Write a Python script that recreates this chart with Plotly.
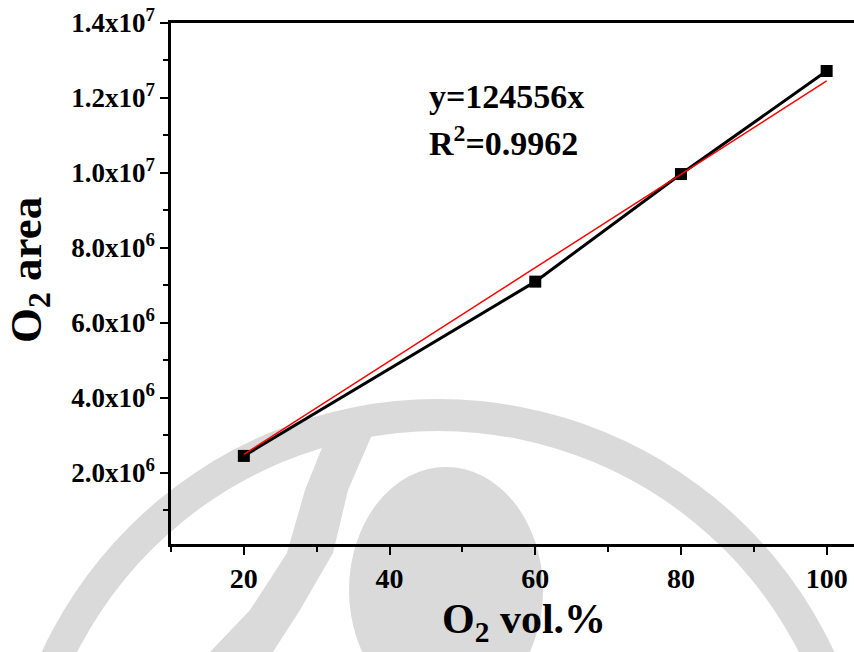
import plotly.graph_objects as go

# Calibration data: O2 concentration vs. detector peak area
o2_vol = [20, 60, 80, 100]
o2_area = [2.45e6, 7.10e6, 9.97e6, 1.272e7]

# Linear fit through the origin
fit_slope = 124556
fit_r2 = 0.9962
fit_x = [20, 100]

x_ticks = [20, 40, 60, 80, 100]
y_ticks = [2e6, 4e6, 6e6, 8e6, 1e7, 1.2e7, 1.4e7]
y_tick_text = ["2.0x10<sup>6</sup>", "4.0x10<sup>6</sup>", "6.0x10<sup>6</sup>",
               "8.0x10<sup>6</sup>", "1.0x10<sup>7</sup>", "1.2x10<sup>7</sup>",
               "1.4x10<sup>7</sup>"]

W, H = 854, 652
ML, MR, MT, MB = 171, 0, 23, 108
PW, PH = W - ML - MR, H - MT - MB
FONT = "Liberation Serif"


def px(x, y):
    """Pixel position -> paper coordinates."""
    return (x - ML) / PW, (H - MB - y) / PH


def circle(cx, cy, r, color, ry=None):
    ry = r if ry is None else ry
    x0, y0 = px(cx - r, cy + ry)
    x1, y1 = px(cx + r, cy - ry)
    return dict(type="circle", xref="paper", yref="paper", x0=x0, y0=y0,
                x1=x1, y1=y1, fillcolor=color, line_width=0, layer="below")


def polygon(points, color):
    pts = [px(x, y) for x, y in points]
    path = "M " + " L ".join(f"{a:.4f},{b:.4f}" for a, b in pts) + " Z"
    return dict(type="path", xref="paper", yref="paper", path=path,
                fillcolor=color, line_width=0, layer="below")


# Faint emblem printed behind the chart
mark = "#dadada"
shapes = [
    circle(438, 836, 437, mark),
    circle(438, 836, 405, "white"),
    polygon([(330, 428), (305, 490), (287, 553), (250, 610), (210, 652),
             (273, 652), (300, 610), (333, 553), (348, 490), (375, 428)], mark),
    circle(446, 590, 97, mark, ry=123),
]

fig = go.Figure()
fig.add_trace(go.Scatter(
    x=o2_vol, y=o2_area, mode="lines+markers",
    line=dict(color="black", width=3),
    marker=dict(symbol="square", size=12, color="black"),
    showlegend=False))
fig.add_trace(go.Scatter(
    x=fit_x, y=[fit_slope * v for v in fit_x], mode="lines",
    line=dict(color="red", width=1.5), showlegend=False))

x_tick_font = dict(family=FONT, size=28, color="black", weight="bold")
y_tick_font = dict(family=FONT, size=27, color="black", weight="bold")
x_title_font = dict(family=FONT, size=42, color="black", weight="bold")
y_title_font = dict(family=FONT, size=45, color="black", weight="bold")
eq_font = dict(family=FONT, size=34, color="black", weight="bold")

fig.update_xaxes(
    range=[10, 10 + PW / 7.285], tickvals=x_ticks, ticks="outside", ticklen=8,
    tickwidth=2, tickcolor="black", showline=True, linewidth=2.5,
    linecolor="black", mirror=True, showgrid=False, zeroline=False,
    tickfont=x_tick_font,
    minor=dict(ticks="outside", ticklen=5, tickwidth=2, tickcolor="black",
               tickmode="linear", tick0=0, dtick=10, showgrid=False))
fig.update_yaxes(
    range=[1e5, 1.4e7], tickvals=y_ticks, ticktext=y_tick_text,
    ticks="outside", ticklen=8, tickwidth=2, tickcolor="black",
    showline=True, linewidth=2.5, linecolor="black", mirror=False,
    showgrid=False, zeroline=False, tickfont=y_tick_font,
    minor=dict(ticks="outside", ticklen=5, tickwidth=2, tickcolor="black",
               tickmode="linear", tick0=0, dtick=1e6, showgrid=False))

ax, ay = px(524, 622)
bx, by = px(29, 270)
ex, ey1 = px(427, 96)
_, ey2 = px(427, 141)
annotations = [
    dict(text="O<sub>2</sub> vol.%", x=ax, y=ay, xref="paper", yref="paper",
         showarrow=False, xanchor="center", yanchor="middle", font=x_title_font),
    dict(text="O<sub>2</sub> area", x=bx, y=by, xref="paper", yref="paper",
         showarrow=False, xanchor="center", yanchor="middle", textangle=-90,
         font=y_title_font),
    dict(text=f"y={fit_slope}x", x=ex, y=ey1, xref="paper", yref="paper",
         showarrow=False, xanchor="left", yanchor="middle", font=eq_font),
    dict(text=f"R<sup>2</sup>={fit_r2}", x=ex, y=ey2, xref="paper", yref="paper",
         showarrow=False, xanchor="left", yanchor="middle", font=eq_font),
]

fig.update_layout(
    width=W, height=H, margin=dict(l=ML, r=MR, t=MT, b=MB),
    paper_bgcolor="white", plot_bgcolor="rgba(0,0,0,0)",
    shapes=shapes, annotations=annotations, showlegend=False)

fig.write_html("out.html")
